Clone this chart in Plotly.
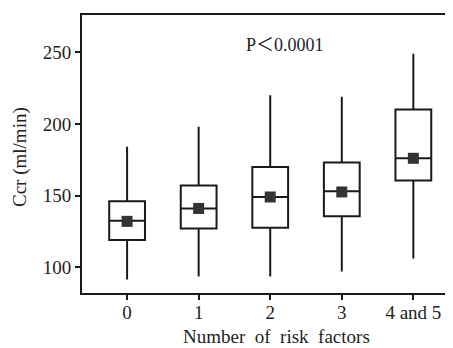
import plotly.graph_objects as go

categories = ["0", "1", "2", "3", "4 and 5"]
positions = [0, 1, 2, 3, 4]
upper_whisker = [184, 198, 220, 219, 249]
q3_values = [146, 157, 170, 173, 210]
median_values = [132.5, 141, 149, 153, 176]
q1_values = [119, 127, 127.5, 135.5, 160.5]
lower_whisker = [91.5, 93.5, 93.5, 97, 106]
mean_values = [132, 141, 149, 152.5, 176]

FONT = "Liberation Serif, DejaVu Serif, serif"
INK = "#1a1a1a"

# page body has an 8px margin; work in window pixels and shift
OFF = 8
W, H = 453 - OFF, 348 - OFF
L, R, T, B = 82 - OFF, 1, 15 - OFF, 55
pw, ph = W - L - R, H - T - B

def px_to_paper(x, y):
    return (x - OFF - L) / pw, (H - B - (y - OFF)) / ph

fig = go.Figure()
fig.add_trace(go.Box(
    x=positions,
    q1=q1_values,
    median=median_values,
    q3=q3_values,
    lowerfence=lower_whisker,
    upperfence=upper_whisker,
    width=0.5,
    fillcolor="white",
    line=dict(color=INK, width=2),
    boxpoints=False,
    whiskerwidth=0,
    showlegend=False,
    hoverinfo="skip",
))
fig.add_trace(go.Scatter(
    x=positions,
    y=mean_values,
    mode="markers",
    marker=dict(symbol="square", size=11, color="#333333"),
    showlegend=False,
))

ax, ay = px_to_paper(285, 45)
fig.add_annotation(
    x=ax, y=ay, xref="paper", yref="paper", xanchor="center", yanchor="middle",
    text="P＜0.0001", showarrow=False,
    font=dict(family=FONT + ", Noto Sans CJK JP", size=18, color="#222"),
)
tx, ty = px_to_paper(276, 336)
fig.add_annotation(
    x=tx, y=ty, xref="paper", yref="paper", xanchor="center", yanchor="middle",
    text="Number  of  risk  factors", showarrow=False,
    font=dict(family=FONT, size=19, color="#222"),
)
yx, yy = px_to_paper(20, 157)
fig.add_annotation(
    x=yx, y=yy, xref="paper", yref="paper", xanchor="center", yanchor="middle",
    text="Ccr (ml/min)", showarrow=False, textangle=-90,
    font=dict(family=FONT, size=19, color="#222"),
)

fig.update_layout(
    width=W, height=H,
    margin=dict(l=L, r=R, t=T, b=B),
    paper_bgcolor="white", plot_bgcolor="white",
    font=dict(family=FONT, color="#222", size=19),
    xaxis=dict(
        range=[-0.63, 4.54], automargin=False,
        tickvals=positions, ticktext=categories,
        showline=True, linecolor=INK, linewidth=2, mirror=True,
        ticks="outside", ticklen=5, tickwidth=1.5, tickcolor=INK,
        showgrid=False, zeroline=False,
        tickfont=dict(size=19), ticklabelstandoff=-4,
    ),
    yaxis=dict(
        range=[82, 276], automargin=False,
        tickvals=[100, 150, 200, 250],
        showline=True, linecolor=INK, linewidth=2, mirror=True,
        ticks="outside", ticklen=5, tickwidth=1.5, tickcolor=INK,
        showgrid=False, zeroline=False,
        tickfont=dict(size=19),
    ),
)

fig.write_html("out.html")
